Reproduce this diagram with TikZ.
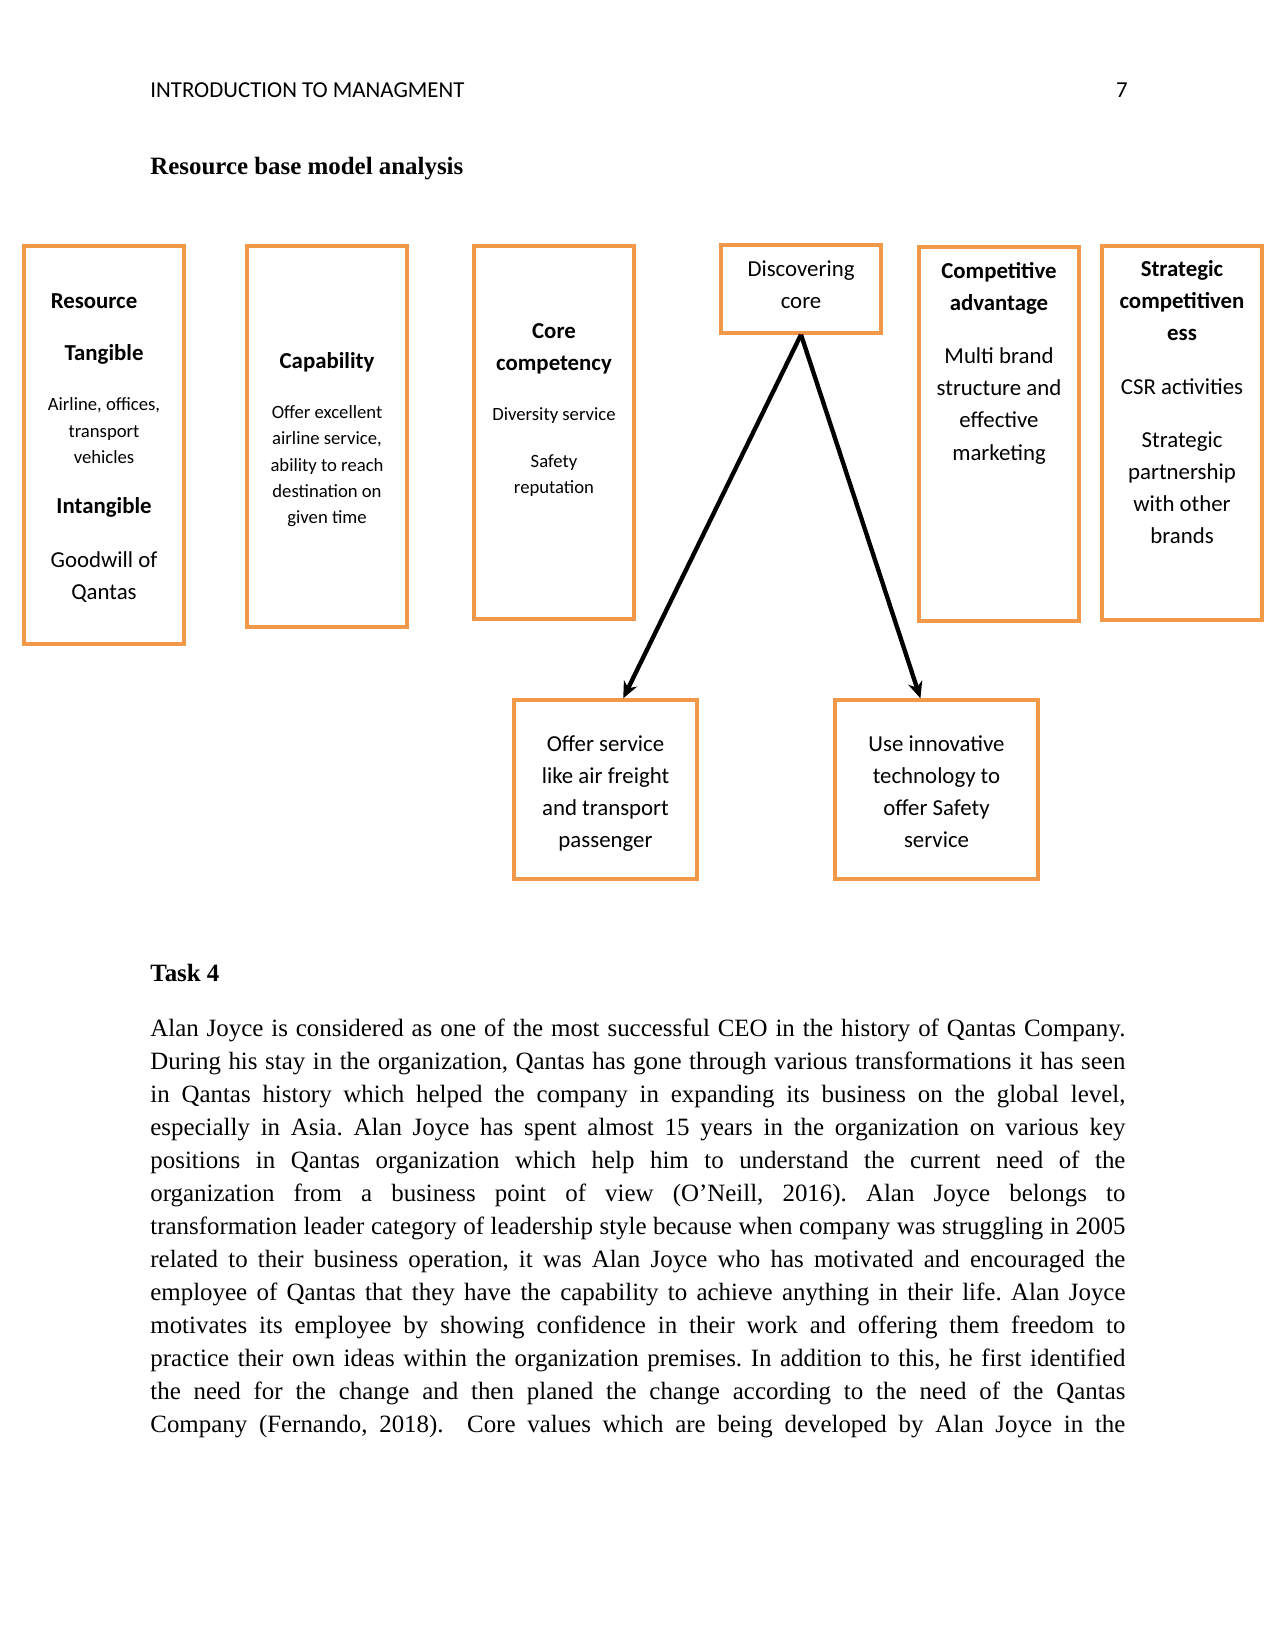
\documentclass[tikz,border=0pt]{standalone}
\usepackage{fontspec}
\setmainfont{Liberation Serif}
\newfontfamily\calfont{Carlito}
\usepackage{xcolor}
\usepackage{tikz}
\usetikzlibrary{positioning, arrows.meta}

\definecolor{boxorange}{RGB}{241,152,73}
\newcommand\pxu{0.4818pt}

\begin{document}
\begin{tikzpicture}[x=0.4818pt, y=-0.4818pt,
    box/.style={draw=boxorange, line width=1.6pt, inner sep=0pt},
    hd/.style={font=\calfont\bfseries\fontsize{11}{13}\selectfont, inner sep=0pt, text height=1.5ex, text depth=.25ex},
    tx/.style={font=\calfont\fontsize{11}{13}\selectfont, inner sep=0pt, text height=1.5ex, text depth=.25ex},
    sm/.style={font=\calfont\fontsize{9}{11}\selectfont, inner sep=0pt, text height=1.5ex, text depth=.25ex},
    bodyline/.style={anchor=base west, inner sep=0pt, font=\fontsize{12}{14}\selectfont},
    arr/.style={-{Stealth[length=8pt, width=7pt]}, line width=2.1pt}]
        \fill[white] (0,0) rectangle (1275,1651);
        \useasboundingbox (0,0) rectangle (1275,1651);

        % Page head and title
        \node[anchor=base west, inner sep=0pt, font=\calfont\fontsize{11}{13}\selectfont] (head) at (150,98) {INTRODUCTION TO MANAGMENT};
        \node[anchor=base east, inner sep=0pt, font=\calfont\fontsize{11}{13}\selectfont] (pageno) at (1128,98) {7};
        \node[anchor=base west, inner sep=0pt, font=\bfseries\fontsize{12}{14}\selectfont] (title) at (150,175) {Resource base model analysis};

        % Model boxes
        \node[box, minimum width=160*\pxu, minimum height=398*\pxu] (res) at (104,445) {};
        \node[box, minimum width=160*\pxu, minimum height=381*\pxu] (cap) at (327,436.5) {};
        \node[box, minimum width=160*\pxu, minimum height=373*\pxu] (core) at (554,432.5) {};
        \node[box, minimum width=160*\pxu, minimum height=88*\pxu] (disc) at (801,289) {};
        \node[box, minimum width=160*\pxu, minimum height=374*\pxu] (comp) at (999,434) {};
        \node[box, minimum width=160*\pxu, minimum height=374*\pxu] (strat) at (1182,433) {};
        \node[box, minimum width=183*\pxu, minimum height=179*\pxu] (offer) at (605.5,789.5) {};
        \node[box, minimum width=203*\pxu, minimum height=179*\pxu] (use) at (936.5,789.5) {};

        % Box texts
        \foreach \x/\y/\s/\t [count=\i] in {94/303/hd/Resource, 104/355/hd/Tangible, 104/405/sm/{Airline, offices,},
            104/432/sm/transport, 104/458/sm/vehicles, 104/508/hd/Intangible, 104/562/tx/Goodwill of, 104/594/tx/Qantas}
          \node[\s] (res-\i) at (\x,\y) {\t};
        \foreach \y/\s/\t [count=\i] in {363/hd/Capability, 413/sm/Offer excellent, 439/sm/{airline service,},
            466/sm/ability to reach, 492/sm/destination on, 518/sm/given time}
          \node[\s] (cap-\i) at (327,\y) {\t};
        \foreach \y/\s/\t [count=\i] in {333/hd/Core, 365/hd/competency, 415/sm/Diversity service, 462/sm/Safety, 488/sm/reputation}
          \node[\s] (core-\i) at (554,\y) {\t};
        \foreach \y/\s/\t [count=\i] in {271/tx/Discovering, 303/tx/core}
          \node[\s] (disc-\i) at (801,\y) {\t};
        \foreach \y/\s/\t [count=\i] in {273/hd/Competitive, 305/hd/advantage, 358/tx/Multi brand, 390/tx/structure and,
            422/tx/effective, 455/tx/marketing}
          \node[\s] (comp-\i) at (999,\y) {\t};
        \foreach \y/\s/\t [count=\i] in {271/hd/Strategic, 303/hd/competitiven, 335/hd/ess, 389/tx/CSR activities,
            442/tx/Strategic, 474/tx/partnership, 506/tx/with other, 538/tx/brands}
          \node[\s] (strat-\i) at (1182,\y) {\t};
        \foreach \y/\t [count=\i] in {746/Offer service, 778/like air freight, 810/and transport, 842/passenger}
          \node[tx] (offer-\i) at (605.5,\y) {\t};
        \foreach \y/\t [count=\i] in {746/Use innovative, 778/technology to, 810/offer Safety, 842/service}
          \node[tx] (use-\i) at (936.5,\y) {\t};

        % Arrows
        \draw[arr] (disc.south) -- (offer.79);
        \draw[arr] (disc.south) -- (use.100);

        % Task text
        \node[anchor=base west, inner sep=0pt, font=\bfseries\fontsize{12}{14}\selectfont] (task) at (150,981) {Task 4};
        \foreach \t [count=\i] in {
            {Alan Joyce is considered as one of the most successful CEO in the history of Qantas Company.},
            {During his stay in the organization, Qantas has gone through various transformations it has seen},
            {in Qantas history which helped the company in expanding its business on the global level,},
            {especially in Asia. Alan Joyce has spent almost 15 years in the organization on various key},
            {positions in Qantas organization which help him to understand the current need of the},
            {organization from a business point of view (O’Neill, 2016). Alan Joyce belongs to},
            {transformation leader category of leadership style because when company was struggling in 2005},
            {related to their business operation, it was Alan Joyce who has motivated and encouraged the},
            {employee of Qantas that they have the capability to achieve anything in their life. Alan Joyce},
            {motivates its employee by showing confidence in their work and offering them freedom to},
            {practice their own ideas within the organization premises. In addition to this, he first identified},
            {the need for the change and then planed the change according to the need of the Qantas},
            {Company (Fernando, 2018).\ \ Core values which are being developed by Alan Joyce in the}}
          \node[bodyline] (body-\i) at (150,{1036+33*(\i-1)}) {\frenchspacing\makebox[6.5in][s]{\t}};
\end{tikzpicture}
\end{document}
